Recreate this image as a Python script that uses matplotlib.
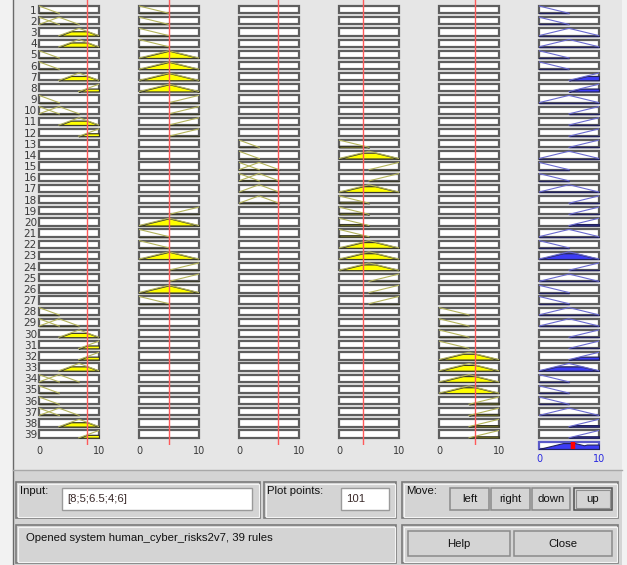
import numpy as np
import matplotlib
matplotlib.use('Agg')
import matplotlib.pyplot as plt
from matplotlib.patches import Rectangle

# ---------------- data ----------------
input_values = [8, 5, 6.5, 4, 6]
rule_numbers = list(range(1, 40))

in1_terms = (['L', 'L|ML', 'MH', 'MH', 'L', 'L', 'MH', 'H', 'L', 'L|ML', 'MH', 'H']
             + [''] * 15
             + ['L', 'L|ML', 'MH', 'H', 'H', 'MH', 'L|ML', 'L', 'L', 'L|ML', 'MH', 'H'])
in2_terms = (['L', 'L', 'L', 'L', 'M', 'M', 'M', 'M', 'H', 'H', 'H', 'H']
             + [''] * 6
             + ['H', 'M', 'L', 'L', 'M', 'H', 'H', 'M', 'L']
             + [''] * 12)
in3_terms = [''] * 12 + ['L', 'L', 'L|ML', 'L|ML', 'ML', 'ML'] + [''] * 21
in4_terms = ([''] * 12
             + ['L', 'M', 'H', 'H', 'M', 'L', 'L', 'L', 'L', 'M', 'M', 'M', 'H', 'H', 'H']
             + [''] * 12)
in5_terms = [''] * 27 + ['L'] * 4 + ['M'] * 4 + ['H'] * 4
out_terms = (['L', 'L', 'M', 'M', 'L', 'L', 'H', 'H', 'M', 'H', 'H', 'H', 'H']
             + ['M', 'L', 'L', 'M', 'H', 'H', 'H', 'M', 'L', 'M', 'H', 'M', 'L', 'L']
             + ['M', 'M', 'H', 'H', 'H', 'M', 'L', 'L', 'L', 'M', 'H', 'H'])

mf4 = {'L': [-3.33, 0, 3.33], 'ML': [0, 3.33, 6.67], 'MH': [3.33, 6.67, 10], 'H': [6.67, 10, 13.33]}
mf3 = {'L': [-5, 0, 5], 'M': [0, 5, 10], 'H': [5, 10, 15]}
input_mfs = [mf4, mf3, mf4, mf3, mf3]
output_mfs = mf3
input_terms = [in1_terms, in2_terms, in3_terms, in4_terms, in5_terms]

tick_values = [0, 10]
tick_labels = ['0', '10']
input_text = '[8;5;6.5;4;6]'
plot_points_text = '101'
status_text = 'Opened system human_cyber_risks2v7, 39 rules'
move_buttons = ['left', 'right', 'down', 'up']

# ---------------- helpers ----------------
W, H = 627, 565
PITCH = 11.17
BOX_OFF = 0.463
BOX_H = 0.654
xs = np.linspace(0, 10, 101)
UI_FONT = 'Liberation Sans'
UI_SIZE = 8.2


def trimf(x, p):
    a, b, c = p
    return np.maximum(np.minimum((x - a) / (b - a), (c - x) / (c - b)), 0)


def mu(x, term, mfs):
    return np.max([trimf(np.atleast_1d(x), mfs[t]) for t in term.split('|')], axis=0)


def support(m):
    idx = np.where(m > 0)[0]
    return max(idx[0] - 1, 0), min(idx[-1] + 1, len(xs) - 1)


def draw_box(ax, row, edge='#5e5e5e'):
    top = row - BOX_OFF
    ax.add_patch(Rectangle((0, top), 10, BOX_H, facecolor='white', edgecolor=edge,
                           lw=1.6, clip_on=False, zorder=1))
    return top, top + BOX_H


def draw_cell(ax, row, term, mfs, level, line_c, fill_c, edge_c):
    top, bot = draw_box(ax, row)
    if not term:
        return
    m = mu(xs, term, mfs)
    lo, hi = support(m)
    xx = xs[lo:hi + 1]
    clipped = np.minimum(m[lo:hi + 1], level)
    ax.fill_between(xx, bot, bot - clipped * BOX_H, facecolor=fill_c, edgecolor=edge_c,
                    lw=0.9, zorder=2)
    for t in term.split('|'):
        y = trimf(xs, mfs[t])
        a, b = support(y)
        ax.plot(xs[a:b + 1], bot - y[a:b + 1] * BOX_H, color=line_c, lw=0.8, zorder=3)


fig = plt.figure(figsize=(W / 100, H / 100), dpi=100)
fig.patch.set_facecolor('#f2f2f2')

bg = fig.add_axes([0, 0, 1, 1], zorder=-5)
bg.set_xlim(0, W)
bg.set_ylim(H, 0)
bg.axis('off')
bg.add_patch(Rectangle((13, 0), 609, 470, facecolor='#e6e6e6', edgecolor='none'))
bg.add_patch(Rectangle((13, 470), 609, 95, facecolor='#d4d4d4', edgecolor='none'))
bg.plot([13, 13], [0, H], color='#6a6a6a', lw=1)
bg.plot([13, 622], [470, 470], color='#a8a8a8', lw=1)


def frame(x0, y0, x1, y1):
    bg.add_patch(Rectangle((x0, y0), x1 - x0, y1 - y0, facecolor='#d4d4d4',
                           edgecolor='#7a7a7a', lw=1.2))
    bg.add_patch(Rectangle((x0 + 1.5, y0 + 1.5), x1 - x0 - 3, y1 - y0 - 3, facecolor='none',
                           edgecolor='#f4f4f4', lw=0.8))


def button(x0, y0, x1, y1, label, pressed=False):
    bg.add_patch(Rectangle((x0, y0), x1 - x0, y1 - y0, facecolor='#d4d4d4',
                           edgecolor='#8a8a8a' if not pressed else '#505050', lw=1.1))
    if pressed:
        bg.add_patch(Rectangle((x0 + 2, y0 + 2), x1 - x0 - 4, y1 - y0 - 4, facecolor='none',
                               edgecolor='#909090', lw=0.8))
    bg.text((x0 + x1) / 2, (y0 + y1) / 2 + 0.5, label, ha='center', va='center',
            fontsize=UI_SIZE, family=UI_FONT, color='#111111')


def textbox(x0, y0, x1, y1, label, tx):
    bg.add_patch(Rectangle((x0, y0), x1 - x0, y1 - y0, facecolor='white',
                           edgecolor='#9a9a9a', lw=1))
    bg.text(tx, (y0 + y1) / 2 + 0.5, label, ha='left', va='center',
            fontsize=UI_SIZE, family=UI_FONT, color='#3a2a2a')


frame(16, 482, 260, 518)
frame(264, 482, 396, 518)
frame(402, 482, 618, 518)
frame(16, 525, 396, 563)
frame(402, 525, 618, 563)
for (x, lab) in [(20, 'Input:'), (267, 'Plot points:'), (406, 'Move:')]:
    bg.text(x, 486, lab, ha='left', va='top', fontsize=UI_SIZE, family=UI_FONT,
            color='#111111')
textbox(62, 488, 252, 510, input_text, 67)
textbox(341, 488, 389, 510, plot_points_text, 346)
for (x0, x1), lab in zip([(450, 489), (491, 530), (532, 570), (574, 612)], move_buttons):
    button(x0, 488, x1, 510, lab, pressed=(lab == 'up'))
button(408, 531, 510, 556, 'Help')
button(514, 531, 612, 556, 'Close')
bg.text(26, 538, status_text, ha='left', va='center', fontsize=UI_SIZE,
        family=UI_FONT, color='#111111')

# ---------------- rule columns ----------------
firing = np.ones(len(rule_numbers))
for k in range(5):
    for i, term in enumerate(input_terms[k]):
        if term:
            firing[i] = min(firing[i], mu(input_values[k], term, input_mfs[k])[0])

for k in range(5):
    left = 39 + 100 * k
    ax = fig.add_axes([left / W, 1 - 445 / H, 60 / W, 445 / H])
    ax.set_xlim(0, 10)
    ax.set_ylim(445 / PITCH, 0)
    ax.patch.set_alpha(0)
    for s in ax.spines.values():
        s.set_visible(False)
    for i, term in enumerate(input_terms[k]):
        lvl = mu(input_values[k], term, input_mfs[k])[0] if term else 0
        draw_cell(ax, rule_numbers[i], term, input_mfs[k], lvl,
                  '#b4b45a', '#ffff00', '#3a3a2a')
    ax.axvline(input_values[k], color='#ff5a5a', lw=1, zorder=5)
    ax.set_xticks(tick_values)
    ax.set_xticklabels(tick_labels)
    ax.tick_params(axis='x', length=0, pad=0.6, labelsize=7, labelcolor='#3a3a3a')
    if k == 0:
        ax.set_yticks([r - BOX_OFF + BOX_H / 2 for r in rule_numbers])
        ax.set_yticklabels([str(r) for r in rule_numbers])
        ax.tick_params(axis='y', length=0, pad=1.5, labelsize=7.5, labelcolor='#3a3a3a')
    else:
        ax.set_yticks([])

# output column
ax = fig.add_axes([539 / W, 1 - 451 / H, 60 / W, 451 / H])
ax.set_xlim(0, 10)
ax.set_ylim(451 / PITCH, 0)
ax.patch.set_alpha(0)
for s in ax.spines.values():
    s.set_visible(False)
for i, term in enumerate(out_terms):
    draw_cell(ax, rule_numbers[i], term, output_mfs, firing[i],
              '#6a6ad0', '#3c3cf4', '#22225a')

# aggregated output
agg = np.zeros_like(xs)
for i, term in enumerate(out_terms):
    agg = np.maximum(agg, np.minimum(mu(xs, term, output_mfs), firing[i]))
centroid = np.sum(xs * agg) / np.sum(agg)
top, bot = draw_box(ax, len(rule_numbers) + 1, edge='#5a5ac8')
ax.fill_between(xs, bot, bot - agg * BOX_H, facecolor='#3c3cf4', edgecolor='#22225a',
                lw=0.8, zorder=2)
ax.plot([centroid, centroid], [top, bot], color='#ff0000', lw=3.2, zorder=5,
        solid_capstyle='butt')
ax.set_xticks(tick_values)
ax.set_xticklabels(tick_labels)
ax.set_yticks([])
ax.tick_params(axis='x', length=0, pad=2.5, labelsize=7, labelcolor='#2a2ae0')

fig.savefig('out.png', dpi=100, facecolor=fig.get_facecolor())
